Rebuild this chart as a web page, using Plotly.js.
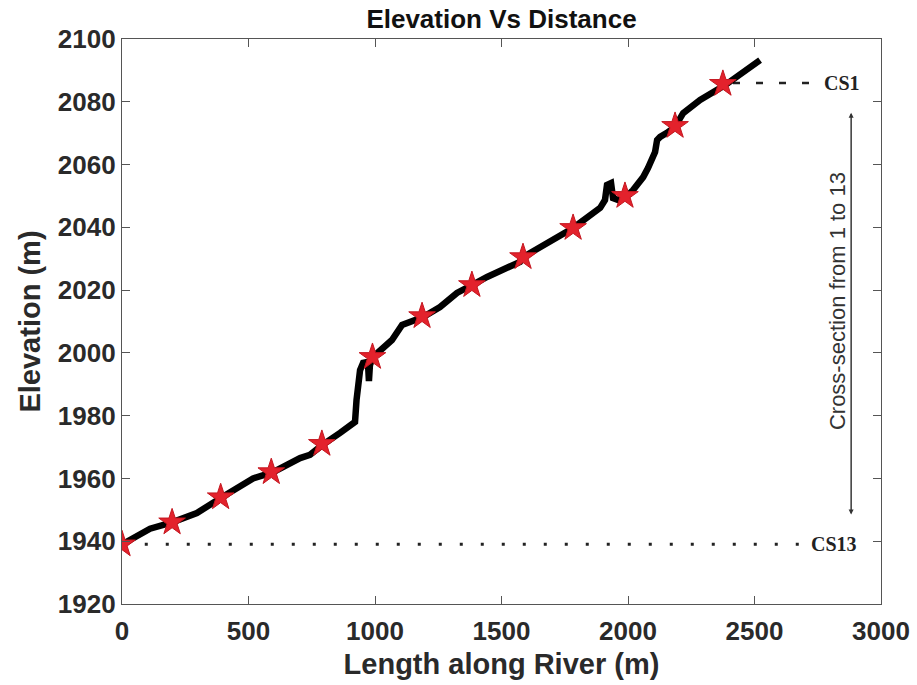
<!DOCTYPE html>
<html>
<head>
<meta charset="utf-8">
<script src="https://cdn.plot.ly/plotly-3.0.1.min.js"></script>
<style>html,body{margin:0;padding:0;background:#fff;}#chart{width:917px;height:685px;}</style>
</head>
<body>
<div id="chart"></div>
<script>
// River profile (length along river in m, elevation in m)
const profileX = [0, 111, 198, 296, 395, 494, 518, 597, 704, 743, 791, 862, 905, 921, 927, 933, 941, 953, 972, 976, 980, 992, 1051, 1067, 1107, 1127, 1190, 1257, 1324, 1383, 1443, 1573, 1585, 1783, 1890, 1909, 1917, 1933, 1941, 1961, 1992, 2020, 2060, 2079, 2095, 2107, 2115, 2127, 2154, 2186, 2218, 2285, 2384, 2455, 2522];
const profileY = [1939, 1944, 1946, 1949, 1954, 1959, 1960, 1962, 1966.5, 1967.5, 1970.6, 1974.5, 1977, 1978, 1985, 1990, 1994.5, 1996.8, 1997.1, 1991, 1996.1, 1998.7, 2003.5, 2004.1, 2008.9, 2009.5, 2011.4, 2014.6, 2019.1, 2021.6, 2024.2, 2029, 2030.5, 2039.8, 2046.2, 2048.7, 2053.5, 2054.1, 2049.3, 2048.7, 2049.7, 2051.9, 2056, 2058.9, 2061.4, 2064, 2067.8, 2068.8, 2070.1, 2072, 2076.4, 2080.6, 2085.3, 2089.2, 2093.3];
// Cross-section locations (CS13 ... CS1)
const csX = [0, 198, 390, 590, 790, 990, 1186, 1383, 1585, 1783, 1988, 2186, 2375];
const csY = [1939, 1946, 1954, 1962, 1971, 1998.7, 2011.7, 2021.6, 2030.5, 2039.8, 2050, 2072.3, 2085.7];
// Reference lines for first and last cross-section
const cs13LineX = [90, 2690];
const cs13LineY = [1939, 1939];
const cs1LineX = [2415, 2730];
const cs1LineY = [2086, 2086];
const xTicks = [0, 500, 1000, 1500, 2000, 2500, 3000];
const yTicks = [1920, 1940, 1960, 1980, 2000, 2020, 2040, 2060, 2080, 2100];

const traces = [
  {x: cs13LineX, y: cs13LineY, mode: 'lines', line: {color: '#222', width: 3, dash: '3px,18px'}, hoverinfo: 'skip'},
  {x: cs1LineX, y: cs1LineY, mode: 'lines', line: {color: '#222', width: 2.5, dash: '7px,16px'}, hoverinfo: 'skip'},
  {x: profileX, y: profileY, mode: 'lines', line: {color: '#000', width: 6.5}},
  {x: csX, y: csY, mode: 'markers', marker: {symbol: 'star', size: 20, color: '#e3222c', line: {color: '#c4161f', width: 1}}}
];

const fam = 'Liberation Sans, Arial, sans-serif';
const tickFont = {family: fam, size: 26, color: '#2a2a2a', weight: 'bold'};
const layout = {
  width: 917, height: 685,
  margin: {l: 122, r: 36, t: 39, b: 81},
  showlegend: false,
  paper_bgcolor: '#fff', plot_bgcolor: '#fff',
  title: {text: '<b>Elevation Vs Distance</b>', font: {family: fam, size: 26, color: '#111'}, x: 0.5, xref: 'paper', xanchor: 'center', y: 0.972, yref: 'container', yanchor: 'middle'},
  xaxis: {
    range: [0, 3000], tickvals: xTicks, ticktext: xTicks.map(String),
    ticks: 'inside', ticklen: 8, tickcolor: '#555', mirror: 'ticks', showline: true, linecolor: '#555', linewidth: 1.2,
    showgrid: false, zeroline: false, tickfont: tickFont, ticklabelstandoff: 4,
    title: {text: '<b>Length along River (m)</b>', font: {family: fam, size: 29, color: '#2a2a2a'}, standoff: 8}
  },
  yaxis: {
    range: [1920, 2100], tickvals: yTicks, ticktext: yTicks.map(String),
    ticks: 'inside', ticklen: 8, tickcolor: '#555', mirror: 'ticks', showline: true, linecolor: '#555', linewidth: 1.2,
    showgrid: false, zeroline: false, tickfont: tickFont,
    title: {text: '<b>Elevation (m)</b>', font: {family: fam, size: 29, color: '#2a2a2a'}, standoff: 8}
  },
  annotations: [
    {x: 2846, y: 2086, text: '<b>CS1</b>', showarrow: false, font: {family: 'Liberation Serif, Times New Roman, serif', size: 20, color: '#222'}},
    {x: 2815, y: 1939, text: '<b>CS13</b>', showarrow: false, font: {family: 'Liberation Serif, Times New Roman, serif', size: 20, color: '#222'}},
    {x: 2882, y: 2076.5, ax: 2882, ay: 1948.5, xref: 'x', yref: 'y', axref: 'x', ayref: 'y', text: '', showarrow: true, arrowhead: 2, arrowsize: 1, arrowwidth: 1, arrowcolor: '#333'},
    {x: 2882, y: 1948.5, ax: 2882, ay: 2076.5, xref: 'x', yref: 'y', axref: 'x', ayref: 'y', text: '', showarrow: true, arrowhead: 2, arrowsize: 1, arrowwidth: 1, arrowcolor: '#333'},
    {x: 2826, y: 2016.5, text: 'Cross-section from 1 to 13', textangle: -90, showarrow: false, font: {family: fam, size: 22, color: '#333'}}
  ]
};

Plotly.newPlot('chart', traces, layout, {displayModeBar: false, staticPlot: true});
</script>
</body>
</html>
